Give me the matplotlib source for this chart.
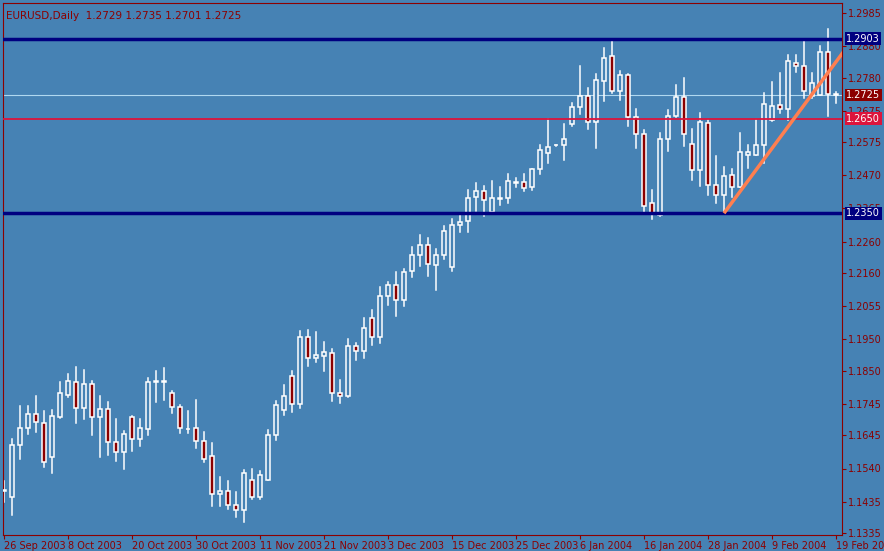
import numpy as np
import matplotlib.pyplot as plt
from matplotlib.patches import Rectangle

# daily EURUSD candles, 26 Sep 2003 .. 19 Feb 2004
opens = [1.1473, 1.1451, 1.1613, 1.1667, 1.1712, 1.1683, 1.1577, 1.1704, 1.1774, 1.1816,
         1.1731, 1.1807, 1.1704, 1.1730, 1.1623, 1.1591, 1.1702, 1.1635, 1.1664, 1.1814,
         1.1819, 1.1778, 1.1734, 1.1664, 1.1667, 1.1626, 1.1581, 1.1458, 1.1470, 1.1423,
         1.1407, 1.1502, 1.1451, 1.1505, 1.1645, 1.1725, 1.1832, 1.1746, 1.1956, 1.1892,
         1.1898, 1.1908, 1.1781, 1.1770, 1.1930, 1.1914, 1.2019, 1.1956, 1.2086, 1.2121,
         1.2076, 1.2168, 1.2216, 1.2248, 1.2187, 1.2219, 1.2178, 1.2314, 1.2324, 1.2400,
         1.2422, 1.2355, 1.2396, 1.2397, 1.2447, 1.2448, 1.2432, 1.2489, 1.2540, 1.2565,
         1.2568, 1.2633, 1.2686, 1.2722, 1.2641, 1.2770, 1.2848, 1.2738, 1.2787, 1.2654,
         1.2600, 1.2384, 1.2344, 1.2584, 1.2658, 1.2720, 1.2571, 1.2486, 1.2635, 1.2438,
         1.2407, 1.2470, 1.2432, 1.2535, 1.2536, 1.2565, 1.2645, 1.2692, 1.2681, 1.2828,
         1.2816, 1.2722, 1.2724, 1.2860, 1.2729]
highs = [1.1500, 1.1635, 1.1738, 1.1738, 1.1770, 1.1723, 1.1725, 1.1814, 1.1840, 1.1863,
         1.1852, 1.1817, 1.1770, 1.1751, 1.1697, 1.1660, 1.1706, 1.1697, 1.1827, 1.1849,
         1.1859, 1.1786, 1.1741, 1.1722, 1.1757, 1.1655, 1.1621, 1.1514, 1.1500, 1.1465,
         1.1535, 1.1539, 1.1532, 1.1662, 1.1754, 1.1804, 1.1849, 1.1976, 1.1979, 1.1973,
         1.1941, 1.1918, 1.1820, 1.1950, 1.1938, 1.2017, 1.2042, 1.2115, 1.2131, 1.2163,
         1.2172, 1.2242, 1.2280, 1.2271, 1.2236, 1.2309, 1.2333, 1.2345, 1.2425, 1.2447,
         1.2436, 1.2452, 1.2432, 1.2475, 1.2463, 1.2474, 1.2491, 1.2565, 1.2650, 1.2568,
         1.2632, 1.2700, 1.2817, 1.2746, 1.2793, 1.2874, 1.2899, 1.2800, 1.2793, 1.2680,
         1.2614, 1.2425, 1.2603, 1.2677, 1.2756, 1.2778, 1.2616, 1.2667, 1.2647, 1.2533,
         1.2497, 1.2491, 1.2603, 1.2566, 1.2645, 1.2730, 1.2766, 1.2796, 1.2853, 1.2853,
         1.2896, 1.2796, 1.2881, 1.2935, 1.2735]
lows = [1.1434, 1.1394, 1.1569, 1.1651, 1.1657, 1.1545, 1.1526, 1.1701, 1.1768, 1.1683,
        1.1698, 1.1647, 1.1577, 1.1584, 1.1565, 1.1539, 1.1596, 1.1612, 1.1647, 1.1752,
        1.1757, 1.1717, 1.1653, 1.1653, 1.1606, 1.1561, 1.1422, 1.1422, 1.1410, 1.1385,
        1.1371, 1.1442, 1.1442, 1.1503, 1.1632, 1.1710, 1.1720, 1.1732, 1.1866, 1.1878,
        1.1850, 1.1755, 1.1748, 1.1767, 1.1883, 1.1891, 1.1932, 1.1939, 1.2059, 1.2024,
        1.2056, 1.2148, 1.2183, 1.2151, 1.2107, 1.2205, 1.2167, 1.2291, 1.2291, 1.2358,
        1.2342, 1.2355, 1.2376, 1.2383, 1.2432, 1.2421, 1.2425, 1.2474, 1.2510, 1.2562,
        1.2519, 1.2626, 1.2665, 1.2618, 1.2558, 1.2705, 1.2732, 1.2710, 1.2627, 1.2558,
        1.2354, 1.2332, 1.2342, 1.2548, 1.2654, 1.2563, 1.2455, 1.2436, 1.2407, 1.2381,
        1.2354, 1.2402, 1.2432, 1.2492, 1.2534, 1.2508, 1.2643, 1.2667, 1.2645, 1.2799,
        1.2714, 1.2714, 1.2724, 1.2658, 1.2701]
closes = [1.1469, 1.1613, 1.1667, 1.1712, 1.1686, 1.1562, 1.1705, 1.1779, 1.1819, 1.1731,
          1.1807, 1.1702, 1.1730, 1.1623, 1.1591, 1.1651, 1.1635, 1.1667, 1.1816, 1.1818,
          1.1813, 1.1734, 1.1667, 1.1665, 1.1626, 1.1569, 1.1458, 1.1470, 1.1423, 1.1407,
          1.1527, 1.1451, 1.1518, 1.1645, 1.1740, 1.1769, 1.1746, 1.1956, 1.1892, 1.1899,
          1.1911, 1.1781, 1.1771, 1.1930, 1.1914, 1.1987, 1.1956, 1.2086, 1.2121, 1.2076,
          1.2162, 1.2219, 1.2248, 1.2190, 1.2219, 1.2292, 1.2314, 1.2322, 1.2397, 1.2422,
          1.2391, 1.2397, 1.2398, 1.2451, 1.2449, 1.2429, 1.2489, 1.2549, 1.2559, 1.2566,
          1.2584, 1.2686, 1.2722, 1.2639, 1.2774, 1.2841, 1.2738, 1.2787, 1.2654, 1.2600,
          1.2372, 1.2349, 1.2584, 1.2658, 1.2720, 1.2600, 1.2486, 1.2639, 1.2441, 1.2409,
          1.2468, 1.2432, 1.2543, 1.2543, 1.2565, 1.2695, 1.2691, 1.2681, 1.2832, 1.2816,
          1.2738, 1.2762, 1.2860, 1.2727, 1.2725]

date_labels = ["26 Sep 2003", "8 Oct 2003", "20 Oct 2003", "30 Oct 2003", "11 Nov 2003",
               "21 Nov 2003", "3 Dec 2003", "15 Dec 2003", "25 Dec 2003", "6 Jan 2004",
               "16 Jan 2004", "28 Jan 2004", "9 Feb 2004", "19 Feb 2004"]
price_ticks = [1.2985, 1.2880, 1.2780, 1.2675, 1.2575, 1.2470, 1.2365, 1.2260, 1.2160,
               1.2055, 1.1950, 1.1850, 1.1745, 1.1645, 1.1540, 1.1435, 1.1335]

resistance = 1.2903
support = 1.2350
mid_level = 1.2650
bid = 1.2725
trend_start = (90, 1.2350)
trend_end = (105.1, 1.2868)

bg = '#4682B4'
axc = '#8B0000'

fig = plt.figure(figsize=(8.84, 5.51), dpi=100, facecolor=bg)
ax = fig.add_axes([3 / 884, 16 / 551, 839 / 884, 532 / 551], facecolor=bg)
ax.set_xlim(-0.125, 104.75)
ax.set_ylim(1.1329, 1.3017)

w = 0.6
for i, (o, h, l, c) in enumerate(zip(opens, highs, lows, closes)):
    ax.plot([i, i], [l, h], color='white', lw=1.1, zorder=2)
    bottom = min(o, c)
    height = max(abs(c - o), 0.00015)
    face = bg if c >= o else '#8B0000'
    ax.add_patch(Rectangle((i - w / 2, bottom), w, height, facecolor=face,
                           edgecolor='white', lw=1.1, zorder=3))

ax.axhline(resistance, color='#000080', lw=2.5, zorder=4)
ax.axhline(support, color='#000080', lw=2.5, zorder=4)
ax.axhline(mid_level, color='#DC143C', lw=1.3, zorder=4)
ax.axhline(bid, color='#B0D8F0', lw=0.8, zorder=1)
ax.plot([trend_start[0], trend_end[0]], [trend_start[1], trend_end[1]],
        color='#FF7F50', lw=2.5, zorder=5, solid_capstyle='butt')

for s in ax.spines.values():
    s.set_color(axc)
ax.yaxis.tick_right()
ax.set_yticks(price_ticks)
ax.set_yticklabels([f"{p:.4f}" for p in price_ticks])
ax.set_xticks(np.arange(0, 105, 8))
ax.set_xticklabels(date_labels, ha='left')
ax.tick_params(colors=axc, labelsize=7, length=3, pad=1)
for t in ax.get_xticklabels():
    t.set_color(axc)
for t in ax.get_yticklabels():
    t.set_color(axc)

tags = [(resistance, '#000080'), (bid, '#8B0000'), (mid_level, '#DC143C'), (support, '#000080')]
for val, col in tags:
    ax.text(1.005, val, f"{val:.4f}", transform=ax.get_yaxis_transform(), fontsize=7,
            color='white', va='center', ha='left', zorder=6,
            bbox=dict(boxstyle='square,pad=0.15', fc=col, ec='none'))

ax.text(0.004, 0.985, "EURUSD,Daily  1.2729 1.2735 1.2701 1.2725", transform=ax.transAxes,
        fontsize=7.5, color=axc, va='top', ha='left')

fig.savefig('out.png', dpi=100, facecolor=bg)
